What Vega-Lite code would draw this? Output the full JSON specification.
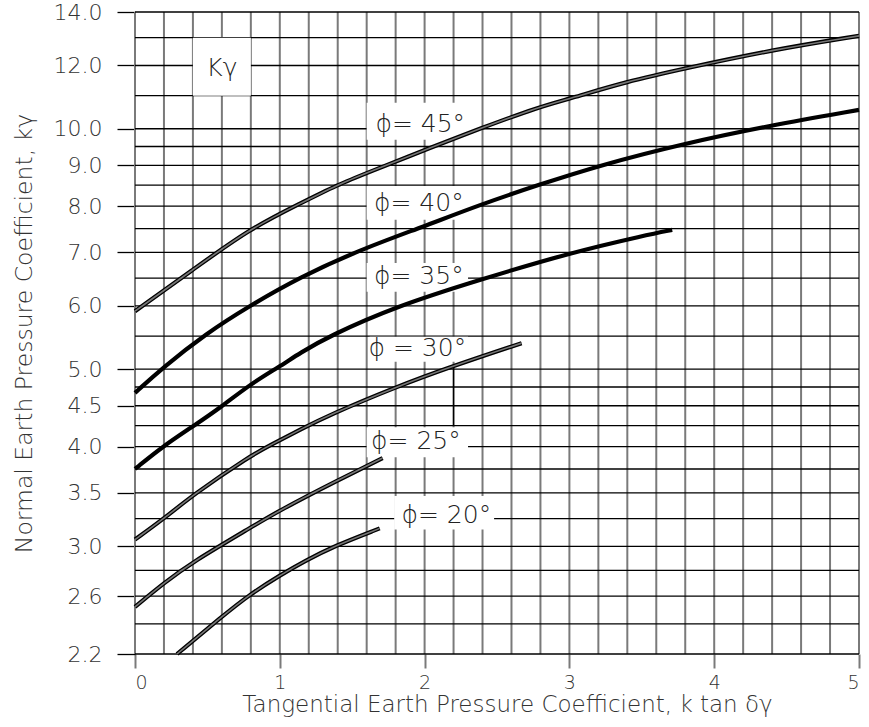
{
  "$schema": "https://vega.github.io/schema/vega-lite/v6.json",
  "width": 724,
  "height": 642,
  "autosize": {"type": "none"},
  "padding": {"left": 135, "top": 12, "right": 10, "bottom": 73},
  "background": "white",
  "config": {"view": {"stroke": null}, "font": "DejaVu Sans"},
  "datasets": {
    "vgrid": [{"x":0},{"x":0.2},{"x":0.4},{"x":0.6},{"x":0.8},{"x":1},{"x":1.2},{"x":1.4},{"x":1.6},{"x":1.8},{"x":2},{"x":2.2},{"x":2.4},{"x":2.6},{"x":2.8},{"x":3},{"x":3.2},{"x":3.4},{"x":3.6},{"x":3.8},{"x":4},{"x":4.2},{"x":4.4},{"x":4.6},{"x":4.8},{"x":5}],
    "hgrid": [{"y":14},{"y":13},{"y":12},{"y":11},{"y":10},{"y":9.5},{"y":9},{"y":8.5},{"y":8},{"y":7.5},{"y":7},{"y":6.5},{"y":6},{"y":5.5},{"y":5},{"y":4.75},{"y":4.5},{"y":4.25},{"y":4},{"y":3.75},{"y":3.5},{"y":3.25},{"y":3},{"y":2.8},{"y":2.6},{"y":2.4},{"y":2.2}],
    "boxes": [
      {"x":0.4,"x2":0.8,"y":13,"y2":11},
      {"x":1.6,"x2":2.38,"y":10.78,"y2":9.69},
      {"x":1.6,"x2":2.38,"y":8.48,"y2":7.69},
      {"x":1.6,"x2":2.3,"y":6.79,"y2":6.25},
      {"x":1.62,"x2":2.3,"y":5.49,"y2":5.11},
      {"x":1.6,"x2":2.3,"y":4.23,"y2":3.88},
      {"x":1.79,"x2":2.48,"y":3.47,"y2":3.15}
    ],
    "leader": [{"x":2.2,"y":4.25,"y2":5.05}],
    "curves": [
      {"phi":"45","style":"double","x":0,"y":5.91},{"phi":"45","style":"double","x":0.4,"y":6.66},{"phi":"45","style":"double","x":0.79,"y":7.49},{"phi":"45","style":"double","x":1.14,"y":8.06},{"phi":"45","style":"double","x":1.4,"y":8.51},{"phi":"45","style":"double","x":1.6,"y":8.8},{"phi":"45","style":"double","x":2.06,"y":9.5},{"phi":"45","style":"double","x":2.38,"y":10.0},{"phi":"45","style":"double","x":2.79,"y":10.65},{"phi":"45","style":"double","x":3.0,"y":10.9},{"phi":"45","style":"double","x":3.39,"y":11.45},{"phi":"45","style":"double","x":3.8,"y":11.9},{"phi":"45","style":"double","x":4.4,"y":12.55},{"phi":"45","style":"double","x":5.0,"y":13.07},
      {"phi":"40","style":"solid","x":0,"y":4.67},{"phi":"40","style":"solid","x":0.19,"y":5.02},{"phi":"40","style":"solid","x":0.49,"y":5.54},{"phi":"40","style":"solid","x":0.79,"y":6.0},{"phi":"40","style":"solid","x":1.14,"y":6.52},{"phi":"40","style":"solid","x":1.55,"y":7.05},{"phi":"40","style":"solid","x":1.99,"y":7.54},{"phi":"40","style":"solid","x":2.38,"y":8.03},{"phi":"40","style":"solid","x":2.79,"y":8.51},{"phi":"40","style":"solid","x":3.21,"y":9.0},{"phi":"40","style":"solid","x":3.79,"y":9.58},{"phi":"40","style":"solid","x":4.38,"y":10.09},{"phi":"40","style":"solid","x":5.0,"y":10.56},
      {"phi":"35","style":"solid","x":0,"y":3.75},{"phi":"35","style":"solid","x":0.19,"y":4.0},{"phi":"35","style":"solid","x":0.4,"y":4.24},{"phi":"35","style":"solid","x":0.6,"y":4.49},{"phi":"35","style":"solid","x":0.79,"y":4.78},{"phi":"35","style":"solid","x":1.0,"y":5.04},{"phi":"35","style":"solid","x":1.14,"y":5.24},{"phi":"35","style":"solid","x":1.34,"y":5.5},{"phi":"35","style":"solid","x":1.8,"y":5.99},{"phi":"35","style":"solid","x":2.38,"y":6.47},{"phi":"35","style":"solid","x":3.0,"y":6.99},{"phi":"35","style":"solid","x":3.53,"y":7.36},{"phi":"35","style":"solid","x":3.71,"y":7.47},
      {"phi":"30","style":"double","x":0,"y":3.06},{"phi":"30","style":"double","x":0.2,"y":3.25},{"phi":"30","style":"double","x":0.4,"y":3.48},{"phi":"30","style":"double","x":0.79,"y":3.89},{"phi":"30","style":"double","x":0.95,"y":4.03},{"phi":"30","style":"double","x":1.14,"y":4.2},{"phi":"30","style":"double","x":1.34,"y":4.38},{"phi":"30","style":"double","x":1.8,"y":4.75},{"phi":"30","style":"double","x":2.2,"y":5.05},{"phi":"30","style":"double","x":2.67,"y":5.39},
      {"phi":"25","style":"double","x":0,"y":2.52},{"phi":"25","style":"double","x":0.2,"y":2.7},{"phi":"25","style":"double","x":0.4,"y":2.87},{"phi":"25","style":"double","x":0.79,"y":3.16},{"phi":"25","style":"double","x":1.0,"y":3.33},{"phi":"25","style":"double","x":1.4,"y":3.63},{"phi":"25","style":"double","x":1.71,"y":3.87},
      {"phi":"20","style":"double","x":0.29,"y":2.2},{"phi":"20","style":"double","x":0.6,"y":2.45},{"phi":"20","style":"double","x":0.79,"y":2.61},{"phi":"20","style":"double","x":1.0,"y":2.76},{"phi":"20","style":"double","x":1.18,"y":2.88},{"phi":"20","style":"double","x":1.37,"y":3.0},{"phi":"20","style":"double","x":1.69,"y":3.16}
    ],
    "labels": [
      {"x":1.97,"y":10.14,"text":"ϕ= 45°"},
      {"x":1.96,"y":8.08,"text":"ϕ= 40°"},
      {"x":1.96,"y":6.54,"text":"ϕ= 35°"},
      {"x":1.95,"y":5.32,"text":"ϕ = 30°"},
      {"x":1.94,"y":4.07,"text":"ϕ= 25°"},
      {"x":2.15,"y":3.28,"text":"ϕ= 20°"}
    ],
    "klabel": [{"x":0.6,"y":11.9,"text":"Kγ"}]
  },
  "layer": [
    {
      "data": {"name": "vgrid"},
      "mark": {"type": "rule", "color": "#7a7a7a", "strokeWidth": 2},
      "encoding": {
        "x": {"field": "x", "type": "quantitative", "scale": {"type": "linear", "domain": [0, 5], "nice": false, "zero": false}}
      }
    },
    {
      "data": {"name": "hgrid"},
      "mark": {"type": "rule", "color": "#000", "strokeWidth": 1.3},
      "encoding": {
        "y": {"field": "y", "type": "quantitative", "scale": {"type": "log", "domain": [2.2, 14], "nice": false}}
      }
    },
    {
      "data": {"name": "boxes"},
      "mark": {"type": "rect", "color": "white"},
      "encoding": {
        "x": {"field": "x", "type": "quantitative", "scale": {"type": "linear", "domain": [0, 5], "nice": false, "zero": false}},
        "x2": {"field": "x2"},
        "y": {"field": "y", "type": "quantitative", "scale": {"type": "log", "domain": [2.2, 14], "nice": false}},
        "y2": {"field": "y2"}
      }
    },
    {
      "data": {"name": "leader"},
      "mark": {"type": "rule", "color": "#000", "strokeWidth": 1.3},
      "encoding": {
        "x": {"field": "x", "type": "quantitative", "scale": {"type": "linear", "domain": [0, 5], "nice": false, "zero": false}},
        "y": {"field": "y", "type": "quantitative", "scale": {"type": "log", "domain": [2.2, 14], "nice": false}},
        "y2": {"field": "y2"}
      }
    },
    {
      "data": {"name": "curves"},
      "mark": {"type": "line", "color": "#000", "strokeWidth": 4.2, "interpolate": "basis"},
      "encoding": {
        "detail": {"field": "phi"},
        "x": {"field": "x", "type": "quantitative",
          "scale": {"type": "linear", "domain": [0, 5], "nice": false, "zero": false},
          "axis": {"values": [0, 1, 2, 3, 4, 5], "format": "d", "grid": false, "domain": false, "ticks": true,
            "tickSize": 14, "tickColor": "#7a7a7a", "tickWidth": 2,
            "labelFontSize": 19, "labelFontWeight": 200, "labelColor": "#333", "labelPadding": 5,
            "title": "Tangential Earth Pressure Coefficient, k  tan δγ",
            "titleFontSize": 23, "titleFontWeight": 200, "titleColor": "#333", "titlePadding": 1, "titleX": 372}
        },
        "y": {"field": "y", "type": "quantitative",
          "scale": {"type": "log", "domain": [2.2, 14], "nice": false},
          "axis": {"values": [2.2, 2.6, 3, 3.5, 4, 4.5, 5, 6, 7, 8, 9, 10, 12, 14], "format": ".1f",
            "grid": false, "domain": false, "ticks": true, "tickSize": 18, "tickColor": "#000", "tickWidth": 1.3,
            "labelFontSize": 22, "labelFontWeight": 200, "labelColor": "#333", "labelPadding": 15,
            "title": "Normal Earth Pressure Coefficient, kγ",
            "titleFontSize": 23.5, "titleFontWeight": 200, "titleColor": "#333", "titlePadding": 17}
        }
      }
    },
    {
      "data": {"name": "curves"},
      "transform": [{"filter": "datum.style === 'double'"}],
      "mark": {"type": "line", "color": "#777", "strokeWidth": 1.6, "interpolate": "basis"},
      "encoding": {
        "detail": {"field": "phi"},
        "x": {"field": "x", "type": "quantitative", "scale": {"type": "linear", "domain": [0, 5], "nice": false, "zero": false}},
        "y": {"field": "y", "type": "quantitative", "scale": {"type": "log", "domain": [2.2, 14], "nice": false}}
      }
    },
    {
      "data": {"name": "labels"},
      "mark": {"type": "text", "fontSize": 25, "fontWeight": 200, "color": "#222", "align": "center", "baseline": "middle"},
      "encoding": {
        "x": {"field": "x", "type": "quantitative", "scale": {"type": "linear", "domain": [0, 5], "nice": false, "zero": false}},
        "y": {"field": "y", "type": "quantitative", "scale": {"type": "log", "domain": [2.2, 14], "nice": false}},
        "text": {"field": "text"}
      }
    },
    {
      "data": {"name": "klabel"},
      "mark": {"type": "text", "fontSize": 25, "fontWeight": 200, "color": "#222", "align": "center", "baseline": "middle"},
      "encoding": {
        "x": {"field": "x", "type": "quantitative", "scale": {"type": "linear", "domain": [0, 5], "nice": false, "zero": false}},
        "y": {"field": "y", "type": "quantitative", "scale": {"type": "log", "domain": [2.2, 14], "nice": false}},
        "text": {"field": "text"}
      }
    }
  ]
}
